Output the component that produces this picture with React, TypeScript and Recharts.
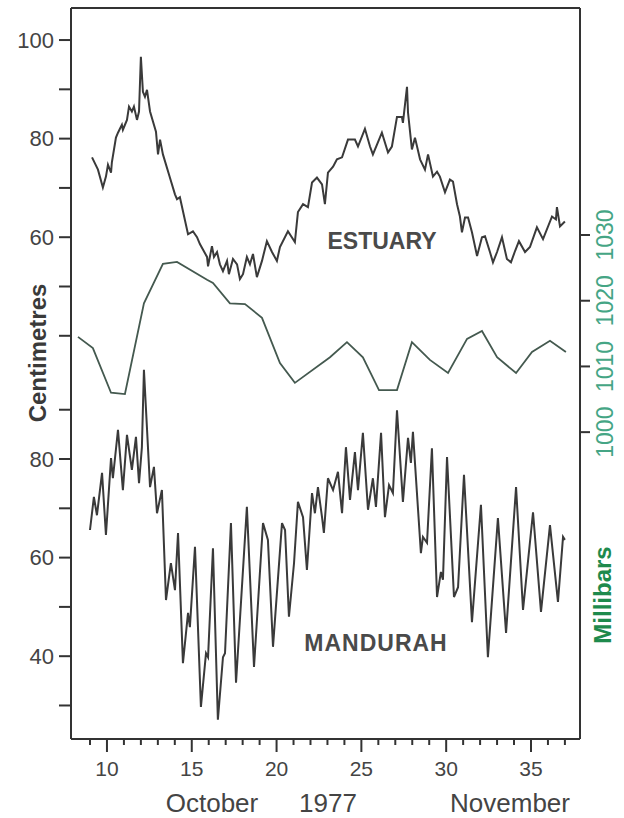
import React from "react";
import { LineChart, Line, XAxis, YAxis, ReferenceLine, Customized } from "recharts";

// ---- Data ----
const estuaryDays = [
  9.12, 9.47, 9.76, 9.94, 10.06, 10.24, 10.29, 10.53, 10.65, 10.88, 10.94, 11.18, 11.3, 11.47, 11.59, 11.77, 11.89,
  12.0, 12.12, 12.24, 12.36, 12.54, 12.89, 13.01, 13.13, 13.3, 13.71, 14.01, 14.13, 14.3, 14.78, 15.07, 15.31, 15.48,
  15.9, 15.96, 16.19, 16.31, 16.49, 16.66, 16.84, 17.08, 17.19, 17.43, 17.67, 17.84, 18.02, 18.25, 18.43, 18.61, 18.84,
  19.14, 19.43, 19.73, 20.02, 20.2, 20.67, 21.08, 21.26, 21.56, 21.85, 22.09, 22.38, 22.68, 22.85, 23.03, 23.33, 23.56,
  23.86, 24.21, 24.62, 24.8, 25.21, 25.51, 25.68, 25.92, 26.21, 26.57, 26.8, 27.1, 27.39, 27.45, 27.69, 27.75, 27.98,
  28.16, 28.46, 28.75, 28.93, 29.22, 29.46, 29.63, 29.93, 30.22, 30.4, 30.64, 30.81, 30.93, 31.11, 31.29, 31.52, 31.82,
  32.11, 32.29, 32.58, 32.76, 33.0, 33.29, 33.58, 33.82, 34.06, 34.29, 34.65, 34.94, 35.35, 35.71, 36.24, 36.47, 36.53,
  36.71, 37.0,
];
const estuaryCm = [
  76.2, 73.7, 70.1, 72.3, 74.7, 73.1, 75.2, 80.2, 81.2, 82.8, 81.8, 83.8, 86.5, 85.5, 86.5, 83.8, 85.5,
  96.6, 89.5, 88.5, 89.9, 85.5, 81.4, 76.8, 79.8, 76.8, 72.1, 68.7, 67.7, 68.1, 60.6, 61.2, 60.0, 58.6,
  56.0, 54.1, 58.2, 56.0, 57.0, 54.5, 53.1, 55.2, 52.5, 55.6, 54.5, 51.5, 52.5, 56.0, 54.5, 56.6, 51.9,
  55.2, 59.2, 57.0, 55.2, 58.0, 61.2, 59.0, 65.1, 66.7, 66.1, 71.1, 72.1, 70.7, 66.7, 73.1, 74.3, 75.8,
  76.2, 79.8, 79.8, 78.4, 82.0, 78.4, 76.8, 78.8, 81.2, 77.2, 78.4, 84.4, 84.4, 83.2, 90.5, 85.3, 77.8,
  80.2, 75.8, 73.7, 76.8, 72.3, 73.3, 72.3, 69.1, 71.7, 71.3, 66.7, 64.2, 61.0, 64.0, 64.0, 61.0, 56.2,
  60.0, 60.2, 57.0, 54.9, 57.0, 60.0, 55.6, 54.9, 57.2, 59.2, 57.0, 58.0, 62.0, 59.6, 64.2, 63.6, 66.1,
  62.2, 63.2,
];

const mandurahDays = [
  9.0, 9.23, 9.41, 9.71, 9.94, 10.24, 10.35, 10.65, 10.94, 11.18, 11.47, 11.71, 11.89, 12.06, 12.18, 12.54, 12.77,
  12.95, 13.24, 13.48, 13.77, 14.01, 14.19, 14.48, 14.78, 14.89, 15.19, 15.54, 15.84, 15.96, 16.25, 16.54, 16.84,
  16.96, 17.31, 17.61, 18.25, 18.67, 19.2, 19.49, 19.79, 20.32, 20.5, 20.73, 21.03, 21.26, 21.56, 21.79, 22.09,
  22.26, 22.44, 22.68, 22.79, 23.03, 23.33, 23.62, 23.86, 24.09, 24.33, 24.62, 24.8, 25.09, 25.39, 25.68, 25.86,
  26.16, 26.39, 26.63, 26.86, 27.1, 27.45, 27.75, 27.92, 28.04, 28.51, 28.63, 28.87, 29.16, 29.46, 29.69, 29.81,
  30.05, 30.46, 30.7, 31.05, 31.52, 32.05, 32.46, 33.05, 33.53, 34.12, 34.53, 35.12, 35.59, 36.12, 36.59, 36.89, 37.0,
];
const mandurahCm = [
  65.6, 72.3, 68.6, 77.2, 64.6, 80.2, 76.1, 85.9, 73.7, 84.9, 77.8, 84.5, 75.1, 82.4, 98.1, 74.3, 78.4,
  69.0, 73.7, 51.4, 58.9, 53.4, 65.0, 38.6, 48.8, 45.9, 62.2, 29.7, 40.6, 39.8, 61.9, 27.1, 39.8,
  40.6, 67.0, 34.6, 70.3, 37.8, 67.0, 63.6, 41.9, 67.0, 65.6, 48.0, 58.9, 71.3, 68.2, 57.5, 73.1,
  69.0, 74.3, 68.2, 65.0, 76.1, 73.7, 77.4, 69.0, 82.4, 71.7, 81.4, 73.7, 85.3, 69.7, 76.1, 70.3,
  85.3, 68.2, 74.7, 73.1, 89.9, 71.3, 84.3, 79.2, 85.5, 60.9, 64.2, 63.0, 82.2, 52.0, 57.1, 55.5,
  80.4, 52.0, 54.0, 76.8, 46.9, 70.7, 39.8, 68.0, 44.7, 74.3, 49.4, 69.2, 49.0, 66.6, 51.0, 64.2, 63.6,
];

const pressureDays = [
  8.29, 9.17, 10.24, 11.06, 12.18, 13.3, 14.13, 15.9, 16.25, 17.25, 18.14, 19.14, 20.2, 21.08, 23.15, 24.15,
  25.09, 26.04, 27.1, 27.98, 29.04, 30.11, 31.23, 32.11, 33.0, 34.12, 35.06, 36.12, 37.06,
];
const pressureMb = [
  1014.5, 1012.8, 1006.0, 1005.8, 1019.6, 1025.6, 1025.9, 1023.2, 1022.7, 1019.6, 1019.5, 1017.4, 1010.5, 1007.5,
  1011.4, 1013.7, 1011.4, 1006.4, 1006.4, 1013.7, 1011.0, 1009.0, 1014.2, 1015.4, 1011.4, 1009.0, 1012.2, 1013.9,
  1012.2,
];

// ---- Axis ticks ----
const dayTicks = [9, 10, 11, 12, 13, 14, 15, 16, 17, 18, 19, 20, 21, 22, 23, 24, 25, 26, 27, 28, 29, 30, 31, 32, 33, 34, 35, 36, 37];
const dayLabels = [10, 15, 20, 25, 30, 35];
const estuaryTicks = [40, 50, 60, 70, 80, 90, 100];
const estuaryLabels = [60, 80, 100];
const mandurahTicks = [30, 40, 50, 60, 70, 80, 90];
const mandurahLabels = [40, 60, 80];
const pressureTicks = [1000, 1010, 1020, 1030];

// Mandurah trace is plotted 65 cm below the estuary scale
const MANDURAH_OFFSET = 65;
const EST_DOMAIN: [number, number] = [-41.8, 106.5];
const MAN_DOMAIN: [number, number] = [EST_DOMAIN[0] + MANDURAH_OFFSET, EST_DOMAIN[1] + MANDURAH_OFFSET];
const MB_DOMAIN: [number, number] = [953.3, 1064.55];
const DAY_DOMAIN: [number, number] = [7.88, 37.89];

const estuaryRows = estuaryDays.map((d, i) => ({ day: d, cm: estuaryCm[i] }));
const mandurahRows = mandurahDays.map((d, i) => ({ day: d, cm: mandurahCm[i] }));
const pressureRows = pressureDays.map((d, i) => ({ day: d, mb: pressureMb[i] }));

const leftTicks = [...estuaryTicks, ...mandurahTicks.map((m) => m - MANDURAH_OFFSET)];
const leftLabelMap: Record<string, string> = {};
estuaryLabels.forEach((v) => (leftLabelMap[String(v)] = String(v)));
mandurahLabels.forEach((v) => (leftLabelMap[String(v - MANDURAH_OFFSET)] = String(v)));

const FONT = "'Liberation Sans', Arial, Helvetica, sans-serif";
const AXIS = "#333";
const TEXT = "#444";

const DayTick = (props: any) => {
  const { x, y, payload } = props;
  const major = dayLabels.includes(payload.value);
  return (
    <g>
      <line x1={x} x2={x} y1={y} y2={y + (major ? 13 : 6)} stroke={AXIS} strokeWidth={2} />
      {major && (
        <text x={x} y={y + 37} textAnchor="middle" fontSize={21} fill={TEXT} fontFamily={FONT}>
          {payload.value}
        </text>
      )}
    </g>
  );
};

const MbTick = (props: any) => {
  const { x, y, payload } = props;
  return (
    <g>
      <line x1={x} x2={x + 10} y1={y} y2={y} stroke={AXIS} strokeWidth={2} />
      <text
        transform={`translate(${x + 33},${y}) rotate(-90)`}
        textAnchor="middle"
        fontSize={23}
        fill="#45a585"
        fontFamily={FONT}
      >
        {payload.value}
      </text>
    </g>
  );
};

const Annotations = () => (
  <g fontFamily={FONT}>
    <text x={382} y={249} textAnchor="middle" fontSize={23} fontWeight="bold" fill="#4a4a4a">
      ESTUARY
    </text>
    <text x={376} y={651} textAnchor="middle" fontSize={23} fontWeight="bold" fill="#4a4a4a" letterSpacing={1}>
      MANDURAH
    </text>
    <text transform="translate(46,353) rotate(-90)" textAnchor="middle" fontSize={24} fontWeight="bold" fill="#3a3a3a">
      Centimetres
    </text>
    <text transform="translate(611,595) rotate(-90)" textAnchor="middle" fontSize={24} fontWeight="bold" fill="#1e8a4c">
      Millibars
    </text>
    <text x={212} y={812} textAnchor="middle" fontSize={26} fill={TEXT}>
      October
    </text>
    <text x={328} y={812} textAnchor="middle" fontSize={26} fill={TEXT}>
      1977
    </text>
    <text x={510} y={812} textAnchor="middle" fontSize={26} fill={TEXT}>
      November
    </text>
  </g>
);

export default function App() {
  return (
    <div style={{ position: "absolute", left: 0, top: 0, width: 624, height: 818, background: "#fff" }}>
      <LineChart width={624} height={818} margin={{ top: 8, right: 0, bottom: 0, left: 0 }}>
        <XAxis
          dataKey="day"
          type="number"
          domain={DAY_DOMAIN}
          allowDataOverflow
          ticks={dayTicks}
          interval={0}
          height={79}
          tickSize={0}
          tickMargin={0}
          tickLine={false}
          tick={<DayTick />}
          axisLine={{ stroke: AXIS, strokeWidth: 2 }}
        />
        <YAxis
          yAxisId="est"
          type="number"
          domain={EST_DOMAIN}
          allowDataOverflow
          width={71}
          ticks={leftTicks}
          interval={0}
          tickSize={12}
          tickMargin={5}
          tickLine={{ stroke: AXIS, strokeWidth: 2 }}
          axisLine={{ stroke: AXIS, strokeWidth: 2 }}
          tickFormatter={(v: number) => leftLabelMap[String(v)] ?? ""}
          tick={{ fontSize: 22, fill: TEXT, fontFamily: FONT }}
        />
        <YAxis yAxisId="man" type="number" domain={MAN_DOMAIN} allowDataOverflow hide />
        <YAxis
          yAxisId="mb"
          orientation="right"
          type="number"
          domain={MB_DOMAIN}
          allowDataOverflow
          width={44}
          ticks={pressureTicks}
          interval={0}
          tickSize={0}
          tickMargin={0}
          tickLine={false}
          tick={<MbTick />}
          axisLine={{ stroke: AXIS, strokeWidth: 2 }}
        />
        <ReferenceLine yAxisId="est" y={EST_DOMAIN[1]} stroke={AXIS} strokeWidth={2} ifOverflow="visible" />
        <Line
          yAxisId="mb"
          data={pressureRows}
          dataKey="mb"
          type="linear"
          stroke="#44594f"
          strokeWidth={1.8}
          dot={false}
          isAnimationActive={false}
        />
        <Line
          yAxisId="est"
          data={estuaryRows}
          dataKey="cm"
          type="linear"
          stroke="#3a3a3a"
          strokeWidth={2}
          dot={false}
          isAnimationActive={false}
        />
        <Line
          yAxisId="man"
          data={mandurahRows}
          dataKey="cm"
          type="linear"
          stroke="#3a3a3a"
          strokeWidth={2}
          dot={false}
          isAnimationActive={false}
        />
        <Customized component={Annotations} />
      </LineChart>
    </div>
  );
}
